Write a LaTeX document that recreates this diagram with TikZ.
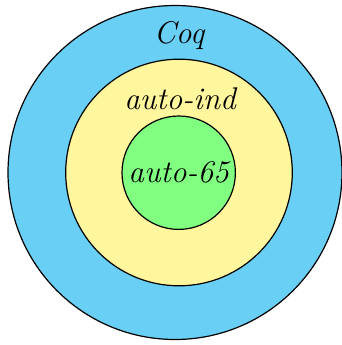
\documentclass[tikz,border=0pt]{standalone}
\usepackage{fontspec}
\usepackage{tikz}
\usetikzlibrary{positioning}
\definecolor{coqblue}{RGB}{106,207,245}
\definecolor{indyellow}{RGB}{255,246,157}
\definecolor{sixfivegreen}{RGB}{128,255,128}
\tikzset{
  ring/.style={draw, circle, inner sep=0pt, semithick},
  lbl/.style={font=\fontsize{15.7}{19}\selectfont\itshape, inner sep=0pt},
}

\begin{document}
\begin{tikzpicture}[x=0.5pt, y=-0.5pt]
\useasboundingbox (0,0) rectangle (342,345);
\node[ring, fill=coqblue, minimum size=167pt] (coq) at (175,172.5) {};
\node[ring, fill=indyellow, minimum size=113.3pt] (ind) at (179,172.5) {};
\node[ring, fill=sixfivegreen, minimum size=56.7pt, lbl] (sixfive) at (178.7,172.7) {auto-65};
\node[lbl] (coqlbl) at (179,35) {Coq};
\node[lbl] (indlbl) at (180,99) {auto-ind};
\end{tikzpicture}
\end{document}
